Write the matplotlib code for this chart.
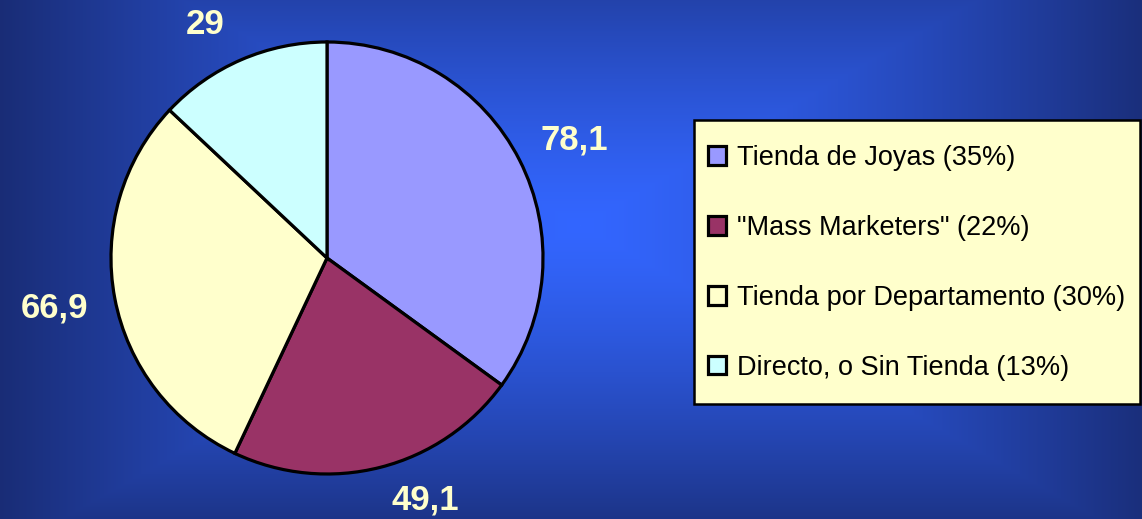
import numpy as np
import matplotlib

matplotlib.use("Agg")
import matplotlib.pyplot as plt
from matplotlib.patches import Rectangle

# Ventas por canal (valores del gráfico)
CATEGORIES = [
    "Tienda de Joyas (35%)",
    '"Mass Marketers" (22%)',
    "Tienda por Departamento (30%)",
    "Directo, o Sin Tienda (13%)",
]
VALUES = [78.1, 49.1, 66.9, 29]
VALUE_LABELS = ["78,1", "49,1", "66,9", "29"]
COLORS = ["#9999ff", "#993366", "#ffffcc", "#ccffff"]

W, H = 1142, 519

fig = plt.figure(figsize=(W / 100, H / 100), dpi=100)
ax = fig.add_axes([0, 0, 1, 1])

# rectangular "from center" gradient background, like the slide
xx, yy = np.meshgrid(np.arange(W), np.arange(H))
t = np.maximum(np.abs(xx - 580) / 600.0, np.abs(yy - 225) / 340.0)
t = np.clip(t, 0, 1) ** 1.3
c0 = np.array([51, 102, 255]) / 255.0
c1 = np.array([24, 42, 112]) / 255.0
bg = c0[None, None, :] * (1 - t[..., None]) + c1[None, None, :] * t[..., None]
ax.imshow(bg, extent=(0, W, 0, H), origin="upper", zorder=0, aspect="auto")

wedges, _ = ax.pie(
    VALUES,
    colors=COLORS,
    startangle=90,
    counterclock=False,
    center=(327, H - 258),
    radius=216,
    wedgeprops=dict(edgecolor="black", linewidth=2.3),
    frame=True,
)

# value labels outside each slice
label_pos = [(574, 140), (425, 500), (55, 308), (205, 25)]
for (lx, ly), txt in zip(label_pos, VALUE_LABELS):
    ax.text(lx, H - ly, txt, ha="center", va="center", fontsize=25,
            fontweight="bold", color="#ffffcc", family="Liberation Sans", zorder=5)

ax.set_xlim(0, W)
ax.set_ylim(0, H)
ax.set_aspect("auto")
ax.axis("off")

# legend box drawn by hand so the padding matches the slide
ax.add_patch(Rectangle((694, H - 404), 446, 284, facecolor="#ffffcc",
                       edgecolor="black", linewidth=1.8, zorder=3))

leg = ax.legend(
    wedges,
    CATEGORIES,
    loc="upper left",
    bbox_to_anchor=(708 / W, 1 - 145 / H),
    borderaxespad=0,
    borderpad=0,
    frameon=False,
    prop={"family": "Liberation Sans", "size": 19.5},
    handlelength=0.68,
    handleheight=0.68,
    handletextpad=0.4,
    labelspacing=1.62,
)
leg.set_zorder(4)

fig.savefig("out.png", dpi=100)
